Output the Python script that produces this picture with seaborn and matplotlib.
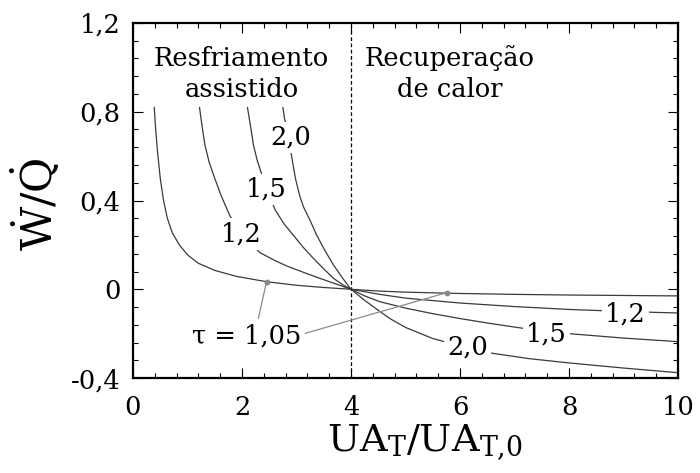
import matplotlib
matplotlib.use("Agg")
import matplotlib.pyplot as plt
from matplotlib.ticker import MultipleLocator, FuncFormatter
import pandas as pd
import seaborn as sns

# Curve values W/Q vs UA_T/UA_T,0 for each temperature ratio tau
tau_names = ["1,05", "1,2", "1,5", "2,0"]

x_105 = [0.39, 0.41, 0.45, 0.50, 0.56, 0.63, 0.72, 0.85, 1.0, 1.2, 1.5, 1.9,
         2.45, 3.0, 3.5, 4.0, 4.5, 5.0, 6.0, 7.0, 8.0, 9.0, 10.0]
y_105 = [0.82, 0.74, 0.62, 0.50, 0.40, 0.32, 0.255, 0.20, 0.155, 0.117, 0.085, 0.058,
         0.034, 0.018, 0.008, 0.0, -0.008, -0.013, -0.019, -0.023, -0.026, -0.028, -0.030]

x_12 = [1.22, 1.27, 1.32, 1.40, 1.50, 1.62, 1.78, 2.0, 2.33, 2.6, 2.82, 3.12, 3.43,
        3.7, 4.0, 4.5, 5.0, 6.0, 7.0, 8.0, 9.0, 10.0]
y_12 = [0.82, 0.73, 0.65, 0.57, 0.50, 0.42, 0.33, 0.245, 0.165, 0.13, 0.105, 0.077, 0.049,
        0.026, 0.0, -0.022, -0.040, -0.062, -0.078, -0.091, -0.100, -0.107]

x_15 = [2.10, 2.16, 2.21, 2.28, 2.36, 2.47, 2.61, 2.77, 2.94, 3.12, 3.31, 3.50, 3.68,
        3.85, 4.0, 4.25, 4.53, 5.0, 5.5, 6.0, 6.5, 7.13, 8.0, 9.0, 10.0]
y_15 = [0.82, 0.73, 0.65, 0.58, 0.52, 0.44, 0.357, 0.295, 0.244, 0.19, 0.139, 0.092, 0.049,
        0.02, 0.0, -0.03, -0.056, -0.085, -0.11, -0.132, -0.152, -0.175, -0.20, -0.22, -0.236]

x_20 = [2.75, 2.78, 2.82, 2.86, 2.91, 2.98, 3.06, 3.13, 3.25, 3.37, 3.52, 3.68, 3.84,
        4.0, 4.25, 4.53, 4.72, 5.0, 5.5, 6.0, 6.58, 7.28, 8.0, 9.0, 10.0]
y_20 = [0.82, 0.77, 0.73, 0.67, 0.60, 0.50, 0.42, 0.37, 0.31, 0.244, 0.175, 0.109, 0.052,
        0.0, -0.05, -0.10, -0.133, -0.172, -0.222, -0.255, -0.288, -0.313, -0.332, -0.355, -0.376]

# Curve label positions (left branch and right branch)
label_left = {"1,2": (1.98, 0.249), "1,5": (2.44, 0.45), "2,0": (2.90, 0.684)}
label_right = {"1,2": (9.03, -0.112), "1,5": (7.58, -0.20), "2,0": (6.14, -0.262)}
tau105_marks = [(2.45, 0.034), (5.76, -0.015)]
tau105_text = (2.09, -0.21)

x_ticks = [0, 2, 4, 6, 8, 10]
y_ticks = [-0.4, 0, 0.4, 0.8, 1.2]

frames = []
for name, xs, ys in zip(tau_names, [x_105, x_12, x_15, x_20], [y_105, y_12, y_15, y_20]):
    frames.append(pd.DataFrame({"x": xs, "y": ys, "tau": name}))
df = pd.concat(frames, ignore_index=True)

sns.set_style("ticks")
plt.rcParams["font.family"] = ["DejaVu Serif"]
plt.rcParams["mathtext.fontset"] = "dejavuserif"
for key in ["text.color", "axes.labelcolor", "xtick.color", "ytick.color"]:
    plt.rcParams[key] = "black"

fig = plt.figure(figsize=(7, 4.73), dpi=100)
ax = fig.add_axes([0.19, 0.2008, 0.7786, 0.7506])

line_col = "#3a3a3a"
sns.lineplot(data=df, x="x", y="y", hue="tau", palette=[line_col] * 4,
             estimator=None, sort=False, legend=False, lw=0.9, ax=ax, zorder=2)

ax.axvline(4, color="black", lw=0.9, ls=(0, (3, 2)), zorder=1)

txt_size = 18.5
lbl_kw = dict(ha="center", va="center", fontsize=txt_size, zorder=4,
              bbox=dict(boxstyle="square,pad=0.12", fc="white", ec="none"))
for name, (lx, ly) in label_left.items():
    ax.text(lx, ly, name, **lbl_kw)
for name, (lx, ly) in label_right.items():
    ax.text(lx, ly, name, **lbl_kw)

# tau = 1,05 callout with leader lines to both branches
gray = "#8a8a8a"
ax.text(*tau105_text, "τ = 1,05", **lbl_kw)
(lx0, ly0), (rx0, ry0) = tau105_marks
ax.plot([lx0, 2.30], [ly0, -0.131], color=gray, lw=0.9, zorder=3)
ax.plot([3.14, rx0], [-0.20, ry0], color=gray, lw=0.9, zorder=3)
ax.scatter([lx0, rx0], [ly0, ry0], s=18, color=gray, zorder=5, linewidths=0)

ax.text(1.99, 0.972, "Resfriamento\nassistido", ha="center", va="center",
        fontsize=txt_size, linespacing=1.3)
ax.text(5.81, 0.972, "Recuperação\nde calor", ha="center", va="center",
        fontsize=txt_size, linespacing=1.3)

ax.set_xlim(0, 10)
ax.set_ylim(-0.4, 1.2)
ax.set_xticks(x_ticks)
ax.set_yticks(y_ticks)
ax.xaxis.set_minor_locator(MultipleLocator(0.4))
ax.yaxis.set_minor_locator(MultipleLocator(0.08))

def comma_fmt(v, pos):
    s = f"{v:g}"
    if s == "-0":
        s = "0"
    return s.replace(".", ",")

ax.xaxis.set_major_formatter(FuncFormatter(comma_fmt))
ax.yaxis.set_major_formatter(FuncFormatter(comma_fmt))
ax.tick_params(which="both", direction="in", top=True, right=True,
               width=0.8, colors="black", labelsize=18.5)
ax.tick_params(which="major", length=7)
ax.tick_params(which="minor", length=3.5)
ax.tick_params(axis="x", which="major", pad=12)
ax.tick_params(axis="y", which="major", pad=9)
for sp in ax.spines.values():
    sp.set_linewidth(1.6)
    sp.set_color("black")

ax.set_xlabel(r"UA$_\mathrm{T}$/UA$_\mathrm{T{,}0}$", fontsize=27.5)
ax.xaxis.set_label_coords(0.535, -0.125)
ax.set_ylabel(r"$\dot{\mathrm{W}}/\dot{\mathrm{Q}}$", fontsize=31)
ax.yaxis.set_label_coords(-0.13, 0.49)

fig.savefig("out.png", dpi=100)
